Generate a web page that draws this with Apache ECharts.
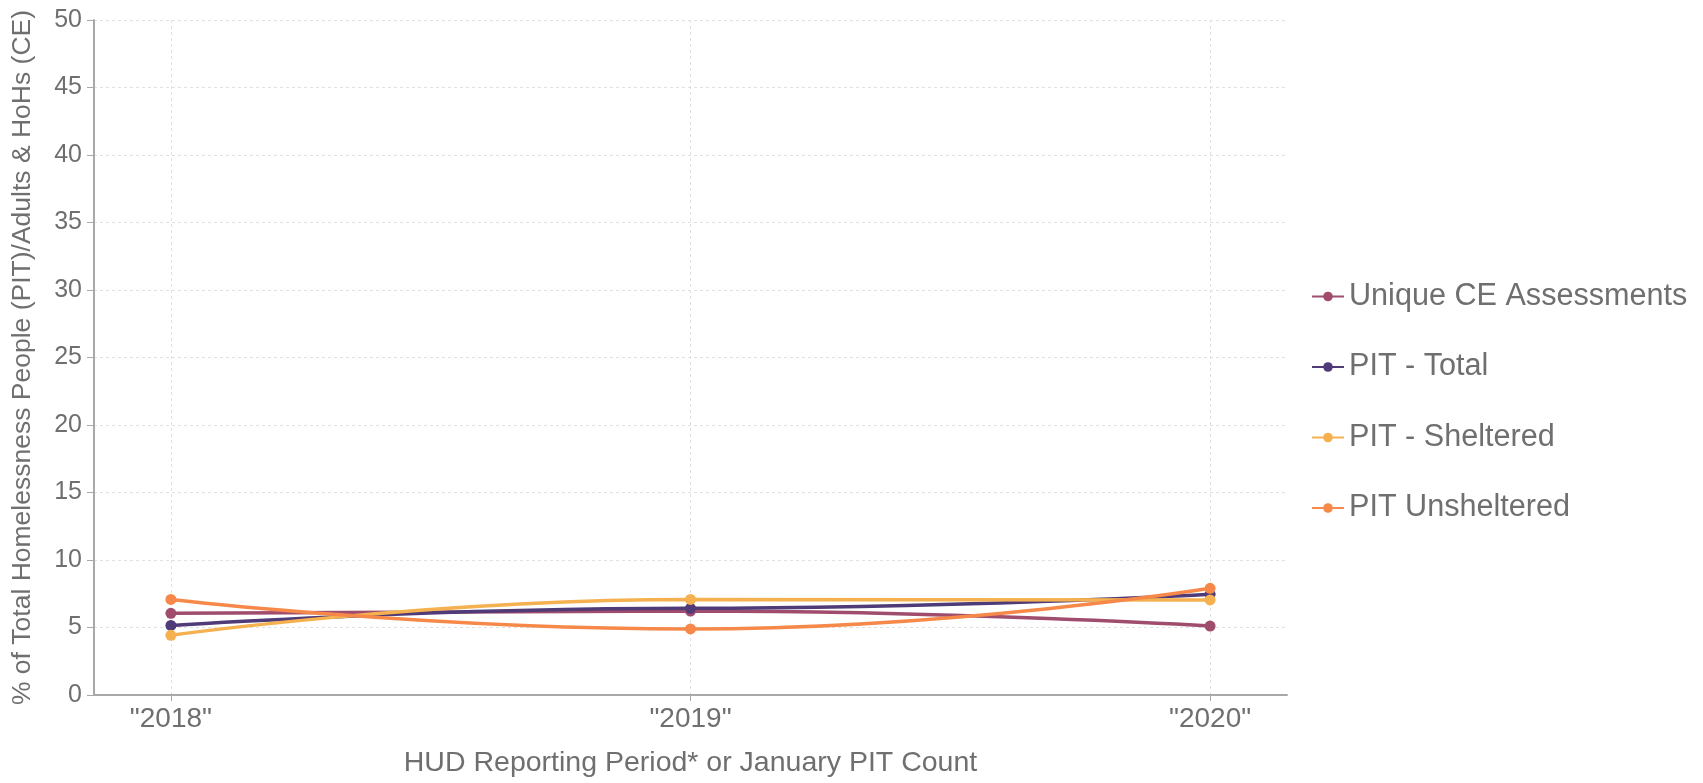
<!DOCTYPE html>
<html>
<head>
<meta charset="utf-8">
<script src="https://cdn.jsdelivr.net/npm/echarts@6/dist/echarts.min.js"></script>
<style>
  html, body { margin: 0; padding: 0; background: #fff; }
  #chart { width: 1703px; height: 783px; }
</style>
</head>
<body>
<div id="chart"></div>
<script>
// 数据
const years = [2018, 2019, 2020]
const seriesNames = ['Unique CE Assessments', 'PIT - Total', 'PIT - Sheltered', 'PIT Unsheltered']
const uniqueCE = [6.05, 6.22, 5.11]
const pitTotal = [5.15, 6.42, 7.46]
const pitSheltered = [4.42, 7.08, 7.04]
const pitUnsheltered = [7.08, 4.89, 7.9]
const yTicks = [0, 50, 5]

const colors = ['#a04d6d', '#4e3b77', '#f5b14f', '#f6894a']
const font = '"Liberation Sans", Arial, Helvetica, sans-serif'
const grey = '#6f6f6f'

const toPoints = (vals) => vals.map((v, i) => [years[i], v])

const makeSeries = (name, vals) => ({
  name: name,
  type: 'line',
  data: toPoints(vals),
  smooth: 0.5,
  smoothMonotone: 'x',
  symbol: 'circle',
  symbolSize: 11,
  lineStyle: { width: 3.5 }
})

const option = {
  animation: false,
  color: colors,
  textStyle: { fontFamily: font },
  grid: { left: 94, right: 416, top: 20, bottom: 88 },
  legend: {
    orient: 'vertical',
    left: 1306,
    top: 276,
    itemWidth: 32,
    itemHeight: 12,
    itemGap: 39.5,
    textStyle: { fontSize: 30.6, color: grey, fontFamily: font },
    data: seriesNames
  },
  xAxis: {
    type: 'value',
    min: 2017.852,
    max: 2020.148,
    name: 'HUD Reporting Period* or January PIT Count',
    nameLocation: 'middle',
    nameGap: 54,
    nameTextStyle: { fontSize: 28.5, color: grey, fontFamily: font },
    axisLine: { lineStyle: { color: '#a8a8a8', width: 2 } },
    axisTick: { show: true, length: 6, customValues: years, lineStyle: { color: '#a8a8a8' } },
    axisLabel: {
      customValues: years,
      fontSize: 28,
      color: grey,
      margin: 10,
      formatter: (v) => '"' + v + '"'
    },
    splitLine: { show: true, customValues: years, lineStyle: { color: '#e0e0e0', type: [3, 3] } }
  },
  yAxis: {
    type: 'value',
    min: yTicks[0],
    max: yTicks[1],
    interval: yTicks[2],
    name: '% of Total Homelessness People (PIT)/Adults & HoHs (CE)',
    nameLocation: 'middle',
    nameGap: 58,
    nameTextStyle: { fontSize: 26.5, color: grey, fontFamily: font },
    axisLine: { show: true, lineStyle: { color: '#a8a8a8', width: 2 } },
    axisTick: { show: true, length: 7, lineStyle: { color: '#a8a8a8' } },
    axisLabel: { fontSize: 25, color: grey, margin: 12 },
    splitLine: { show: true, lineStyle: { color: '#e0e0e0', type: [3, 3] } }
  },
  series: [
    makeSeries(seriesNames[0], uniqueCE),
    makeSeries(seriesNames[1], pitTotal),
    makeSeries(seriesNames[2], pitSheltered),
    makeSeries(seriesNames[3], pitUnsheltered)
  ]
}

const myChart = echarts.init(document.getElementById('chart'))
myChart.setOption(option)
window.addEventListener('resize', () => {
  myChart.resize()
})
</script>
</body>
</html>
